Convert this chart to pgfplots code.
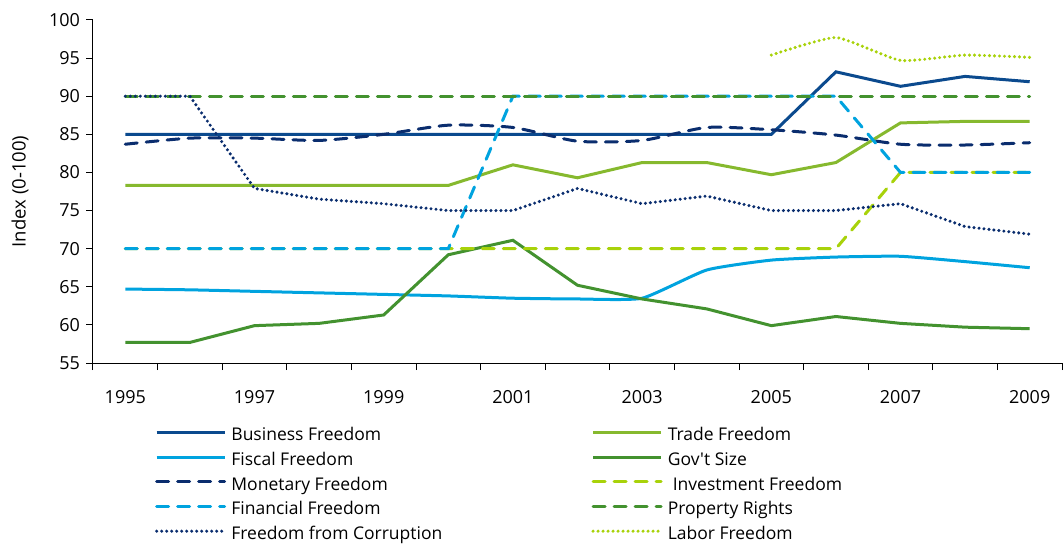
\documentclass[border=0pt]{standalone}
\usepackage{pgfplots}
\pgfplotsset{compat=1.18}
\usepackage{fontspec}
\setmainfont{Open Sans}
\newfontfamily\rawfont{Open Sans}
\definecolor{cBus}{HTML}{0B4A8E}
\definecolor{cNavy}{HTML}{0A2D6E}
\definecolor{cCyan}{HTML}{00A3DF}
\definecolor{cTrade}{HTML}{86B92E}
\definecolor{cGov}{HTML}{43922F}
\definecolor{cYG}{HTML}{A8D20A}
\begin{document}
\fontsize{17.5}{20}\selectfont
\begin{tikzpicture}
\useasboundingbox (-93pt,-181pt) rectangle (970pt,363pt);
\begin{axis}[
  at={(0pt,0pt)}, anchor=south west,
  scale only axis, width=969pt, height=343pt,
  xmin=1994.5, xmax=2009.5, ymin=55, ymax=100,
  axis x line*=bottom, axis y line*=left,
  axis line style={black, line width=1pt},
  xtick={1995,1997,1999,2001,2003,2005,2007,2009},
  xticklabels={1995,1997,1999,2001,2003,2005,2007,2009},
  minor xtick={1994.5,1995.5,1996.5,1997.5,1998.5,1999.5,2000.5,2001.5,2002.5,2003.5,2004.5,2005.5,2006.5,2007.5,2008.5,2009.5},
  major x tick style={draw=none},
  minor x tick style={black, line width=1pt},
  ytick={55,60,65,70,75,80,85,90,95,100},
  y tick style={black, line width=1pt},
  tick align=outside,
  major tick length=7pt, minor tick length=7pt,
  ticklabel style={font=\fontsize{18}{21}\selectfont},
  xticklabel style={yshift=-14pt},
  /pgf/number format/assume math mode=true,
  /pgf/number format/1000 sep={},
  ylabel={Index (0-100)},
  every axis y label/.style={at={(axis description cs:-0.0753,0.5)}, rotate=90, anchor=center, font=\fontsize{18.5}{21}\selectfont},
  clip=false,
  legend style={draw=none, fill=none, at={(axis description cs:0.064,-0.192)}, anchor=north west,
    font=\fontsize{17.5}{20}\selectfont, inner sep=0pt, outer sep=0pt,
    nodes={inner sep=0pt, text height=12pt, text depth=4pt},
    row sep=8.7pt,
    /tikz/every odd column/.style={column sep=5pt}},
  legend columns=2,
  legend cell align=left,
  legend image code/.code={\draw[#1] (0pt,4.5pt) -- (68pt,4.5pt);},
  every axis plot/.append style={line width=3pt},
  sol/.style={solid},
  dsh/.style={dash pattern=on 12pt off 9pt, line cap=round},
  dtt/.style={dash pattern=on 0pt off 5pt, line cap=round, line width=3.4pt},
]
% Business Freedom
\addplot[cBus, sol] coordinates {(1995,85)(1996,85)(1997,85)(1998,85)(1999,85)(2000,85)(2001,85)(2002,85)(2003,85)(2004,85)(2005,85)(2006,93.2)(2007,91.3)(2008,92.6)(2009,91.9)};
\addlegendentry{\makebox[360pt][l]{Business Freedom}}
% Trade Freedom
\addplot[cTrade, sol] coordinates {(1995,78.3)(1996,78.3)(1997,78.3)(1998,78.3)(1999,78.3)(2000,78.3)(2001,81.0)(2002,79.3)(2003,81.3)(2004,81.3)(2005,79.7)(2006,81.3)(2007,86.5)(2008,86.7)(2009,86.7)};
\addlegendentry{Trade Freedom}
% Fiscal Freedom
\addplot[cCyan, sol, smooth, tension=0.3] coordinates {(1995,64.7)(1996,64.6)(1997,64.4)(1998,64.2)(1999,64.0)(2000,63.8)(2001,63.5)(2002,63.4)(2003,63.5)(2004,67.2)(2005,68.5)(2006,68.9)(2007,69.0)(2008,68.3)(2009,67.5)};
\addlegendentry{\makebox[360pt][l]{Fiscal Freedom}}
% Gov't Size
\addplot[cGov, sol] coordinates {(1995,57.7)(1996,57.7)(1997,59.9)(1998,60.2)(1999,61.3)(2000,69.2)(2001,71.1)(2002,65.2)(2003,63.4)(2004,62.1)(2005,59.9)(2006,61.1)(2007,60.2)(2008,59.7)(2009,59.5)};
\addlegendentry{{\rawfont Gov't Size}}
% Monetary Freedom
\addplot[cNavy, dsh, smooth, tension=0.4] coordinates {(1995,83.7)(1996,84.5)(1997,84.5)(1998,84.2)(1999,85.0)(2000,86.2)(2001,85.9)(2002,84.1)(2003,84.2)(2004,85.9)(2005,85.6)(2006,84.9)(2007,83.7)(2008,83.6)(2009,83.9)};
\addlegendentry{\makebox[360pt][l]{Monetary Freedom}}
% Investment Freedom
\addplot[cYG, dsh] coordinates {(1995,70)(1996,70)(1997,70)(1998,70)(1999,70)(2000,70)(2001,70)(2002,70)(2003,70)(2004,70)(2005,70)(2006,70)(2007,80)(2008,80)(2009,80)};
\addlegendentry{\hspace{5pt}Investment Freedom}
% Financial Freedom
\addplot[cCyan, dsh] coordinates {(1995,70)(1996,70)(1997,70)(1998,70)(1999,70)(2000,70)(2001,90)(2002,90)(2003,90)(2004,90)(2005,90)(2006,90)(2007,80)(2008,80)(2009,80)};
\addlegendentry{\makebox[360pt][l]{Financial Freedom}}
% Property Rights
\addplot[cGov, dsh] coordinates {(1995,90)(1996,90)(1997,90)(1998,90)(1999,90)(2000,90)(2001,90)(2002,90)(2003,90)(2004,90)(2005,90)(2006,90)(2007,90)(2008,90)(2009,90)};
\addlegendentry{Property Rights}
% Freedom from Corruption
\addplot[cNavy, dtt] coordinates {(1995,90)(1996,90)(1997,77.9)(1998,76.5)(1999,75.9)(2000,75.0)(2001,75.0)(2002,77.9)(2003,75.9)(2004,76.9)(2005,75.0)(2006,75.0)(2007,75.9)(2008,72.9)(2009,71.9)};
\addlegendentry{\makebox[360pt][l]{Freedom from Corruption}}
% Labor Freedom
\addplot[cYG, dtt, smooth, tension=0.3] coordinates {(2005,95.4)(2006,97.7)(2007,94.7)(2008,95.4)(2009,95.1)};
\addlegendentry{Labor Freedom}
\end{axis}
\end{tikzpicture}
\end{document}
